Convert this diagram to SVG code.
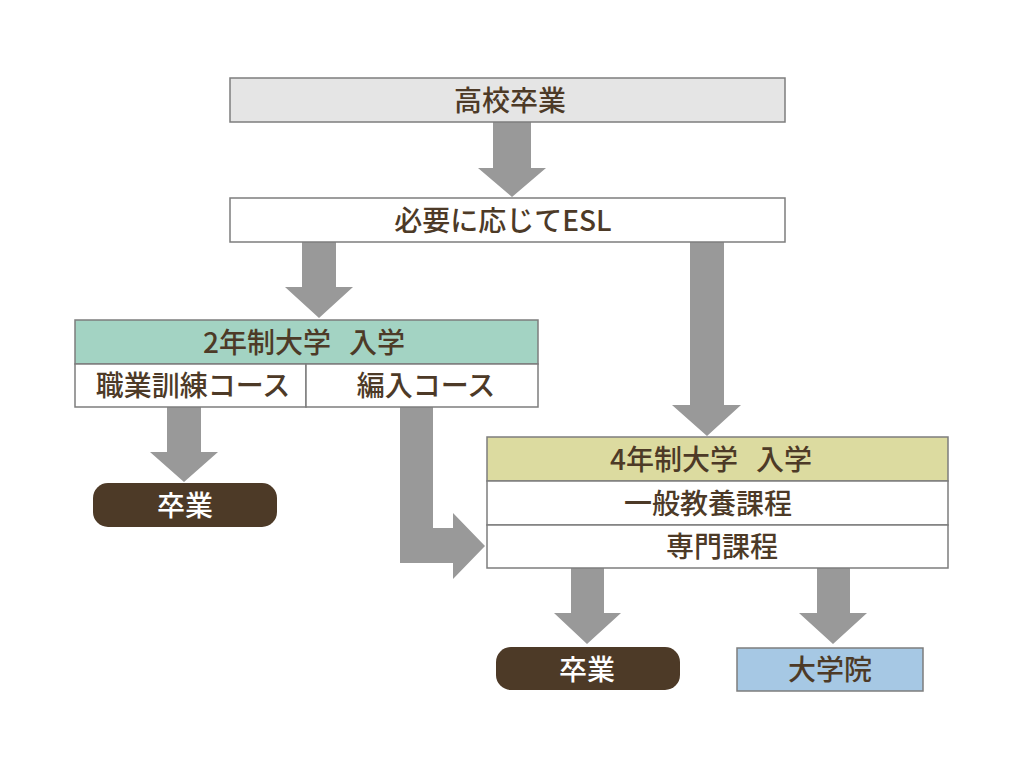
<svg xmlns="http://www.w3.org/2000/svg" width="1024" height="768" viewBox="0 0 1024 768">
<style>
.box{stroke:#7d7d7d;stroke-width:1.5}
.t{font-family:"Noto Sans CJK JP","Noto Sans",sans-serif;font-size:28px;font-weight:500;fill:#4d3a27;text-anchor:middle}
.w{fill:#ffffff}
.arr{fill:#999999}
</style>
<rect width="1024" height="768" fill="#ffffff"/>
<g id="connectors" class="arr">
<polygon points="493,122 531,122 531,168 546,168 512,197 478,168 493,168"/>
<polygon points="302,242 336,242 336,287 353,287 319,318 285,287 302,287"/>
<polygon points="690,242 724,242 724,405 741,405 707,436 672,405 690,405"/>
<polygon points="167,407 201,407 201,452 218,452 184,482 150,452 167,452"/>
<polygon points="400,407 433,407 433,528 453,528 453,513 485,546 453,579 453,563 400,563"/>
<polygon points="571,568 604,568 604,613 621,613 587,644 554,613 571,613"/>
<polygon points="817,568 850,568 850,613 867,613 833,644 799,613 817,613"/>
</g>
<g id="koukou">
<rect class="box" x="230" y="78" width="555" height="44" fill="#e5e5e5"/>
<text class="t" x="510" y="111">高校卒業</text>
</g>
<g id="esl">
<rect class="box" x="230" y="198" width="555" height="44" fill="#ffffff"/>
<text class="t" x="503" y="231">必要に応じてESL</text>
</g>
<g id="twoyear">
<rect class="box" x="75" y="320" width="463" height="44" fill="#a3d3c3"/>
<text class="t" x="304" y="353">2年制大学<tspan dx="18">入学</tspan></text>
</g>
<g id="shokugyo">
<rect class="box" x="75" y="364" width="231" height="43" fill="#ffffff"/>
<text class="t" x="193" y="396">職業訓練コース</text>
</g>
<g id="hennyu">
<rect class="box" x="306" y="364" width="232" height="43" fill="#ffffff"/>
<text class="t" x="426" y="396">編入コース</text>
</g>
<g id="sotsugyo1">
<rect x="93" y="483" width="184" height="44" rx="15" fill="#4d3a27"/>
<text class="t w" x="185" y="516">卒業</text>
</g>
<g id="fouryear">
<rect class="box" x="487" y="437" width="461" height="44" fill="#dcdba0"/>
<text class="t" x="711" y="470">4年制大学<tspan dx="18">入学</tspan></text>
</g>
<g id="ippan">
<rect class="box" x="487" y="481" width="461" height="44" fill="#ffffff"/>
<text class="t" x="708" y="514">一般教養課程</text>
</g>
<g id="senmon">
<rect class="box" x="487" y="525" width="461" height="43" fill="#ffffff"/>
<text class="t" x="722" y="557">専門課程</text>
</g>
<g id="sotsugyo2">
<rect x="496" y="647" width="184" height="43" rx="15" fill="#4d3a27"/>
<text class="t w" x="587" y="680">卒業</text>
</g>
<g id="daigakuin">
<rect class="box" x="737" y="648" width="186" height="43" fill="#a6c8e4"/>
<text class="t" x="830" y="680">大学院</text>
</g>
</svg>
